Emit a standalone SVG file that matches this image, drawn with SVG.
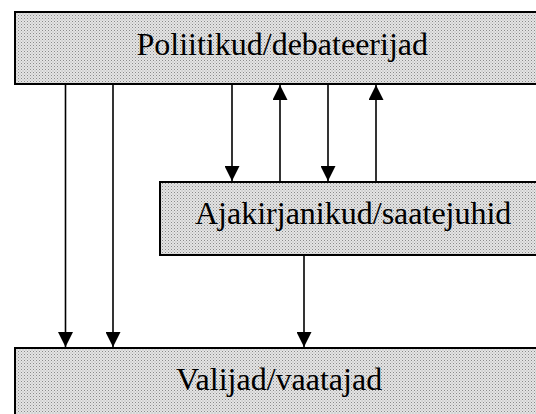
<svg xmlns="http://www.w3.org/2000/svg" width="536" height="414" viewBox="0 0 536 414">
<style>
.box{fill:url(#dots);stroke:#000;stroke-width:2}
.lbl{font-family:"Liberation Serif","Times New Roman",serif;font-size:32px;fill:#000}
.conn{stroke:#000;stroke-width:1.6;fill:none;marker-end:url(#ah)}
</style>
<defs>
<pattern id="dots" width="3" height="3" patternUnits="userSpaceOnUse">
<rect width="3" height="3" fill="#e4e4e4"/>
<rect x="0" y="0" width="1" height="1" fill="#8a8a8a"/>
<rect x="1.5" y="1.5" width="1" height="1" fill="#a8a8a8"/>
</pattern>
<marker id="ah" markerUnits="userSpaceOnUse" markerWidth="16" markerHeight="15" refX="15" refY="7.5" orient="auto" viewBox="0 0 15 15">
<path d="M0,0 L15,7.5 L0,15 Z" fill="#000"/>
</marker>
</defs>
<g id="politicians">
<rect class="box" x="15" y="12" width="530" height="72"/>
<text class="lbl" x="136.5" y="55">Poliitikud/debateerijad</text>
</g>
<g id="journalists">
<rect class="box" x="160" y="182" width="385" height="73"/>
<text class="lbl" x="195" y="224">Ajakirjanikud/saatejuhid</text>
</g>
<g id="voters">
<rect class="box" x="15" y="348" width="530" height="80"/>
<text class="lbl" x="176" y="390">Valijad/vaatajad</text>
</g>
<g id="connectors">
<line class="conn" x1="65.5" y1="85" x2="65.5" y2="347"/>
<line class="conn" x1="113" y1="85" x2="113" y2="347"/>
<line class="conn" x1="232" y1="85" x2="232" y2="181"/>
<line class="conn" x1="280" y1="181" x2="280" y2="85"/>
<line class="conn" x1="328" y1="85" x2="328" y2="181"/>
<line class="conn" x1="376" y1="181" x2="376" y2="85"/>
<line class="conn" x1="304" y1="256" x2="304" y2="347"/>
</g>
</svg>
